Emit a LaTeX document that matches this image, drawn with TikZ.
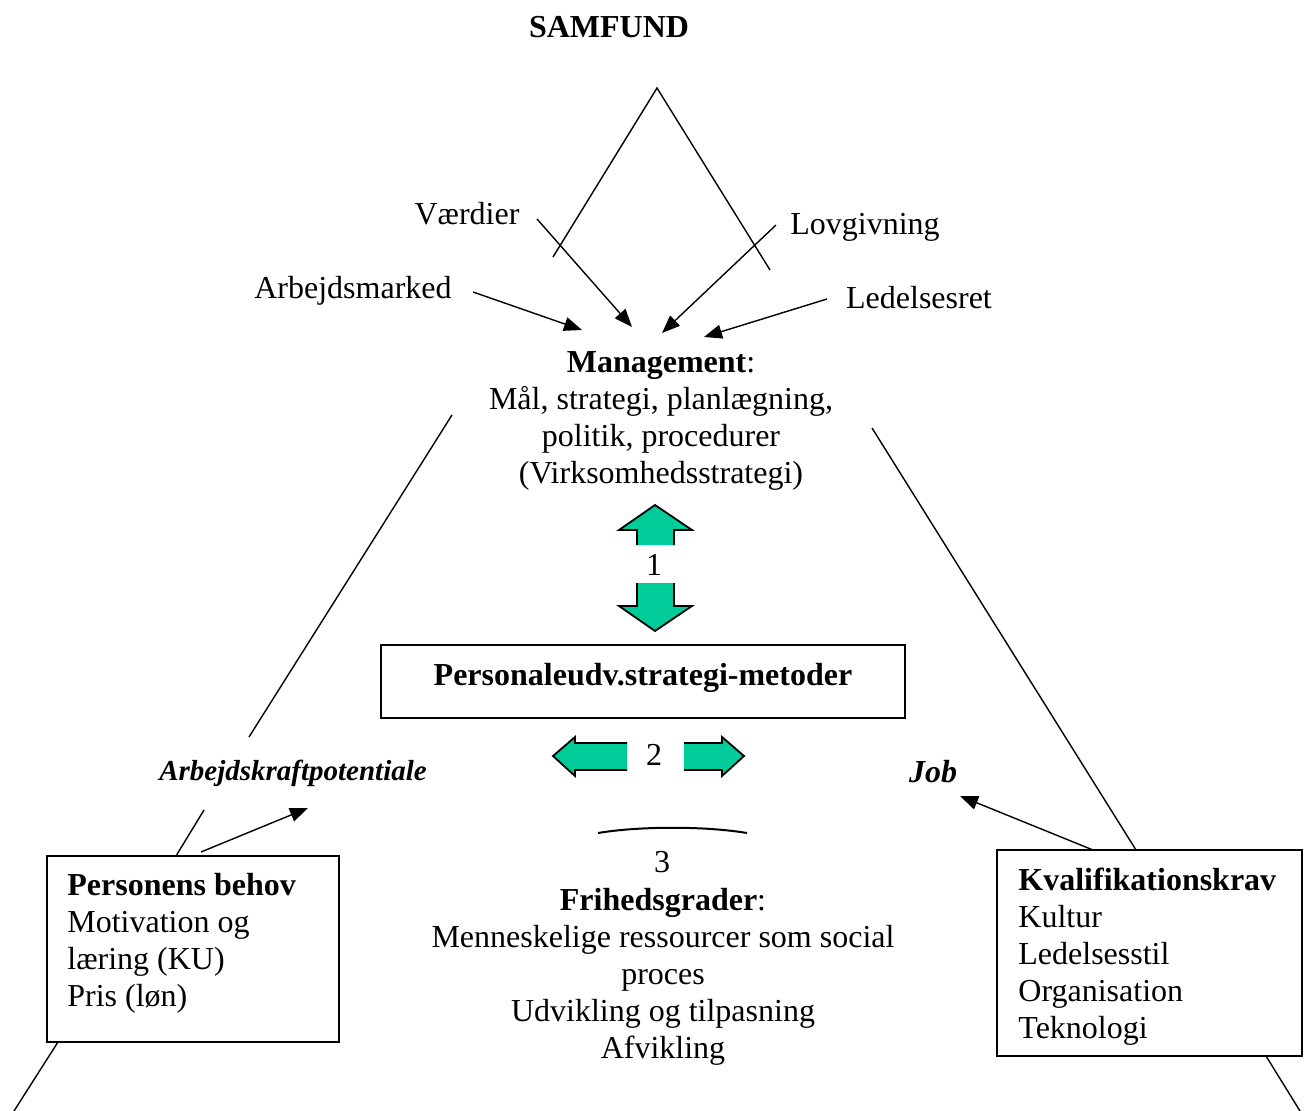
\documentclass[tikz,border=0pt]{standalone}
\usepackage{fontspec}
\setmainfont{Liberation Serif}
\usetikzlibrary{arrows.meta}
\definecolor{mint}{RGB}{0,204,153}

\begin{document}
\begin{tikzpicture}[x=0.5pt,y=-0.5pt,
  lbl/.style={inner sep=0pt, font=\fontsize{16}{18.5}\selectfont},
  edge/.style={line width=0.7pt, line cap=butt},
  feed/.style={line width=0.7pt, -{Triangle[length=9pt,width=7pt]}},
  framebox/.style={draw, line width=1pt, inner sep=0pt},
  bigarrow/.style={fill=mint, draw=black, line width=0.9pt, line join=miter}
]
\useasboundingbox (0,0) rectangle (1304,1111);

% --- society at the top ---
\node[lbl, font=\fontsize{16}{18.5}\selectfont\bfseries, anchor=base] (samfund) at (609,38) {SAMFUND};
\coordinate (apex) at (657,88);
\coordinate (roofL) at (553,257);
\coordinate (roofR) at (770,270);
\draw[edge] (roofL) -- (apex) -- (roofR);

% --- external influences ---
\node[lbl, anchor=base] (vaerdier) at (467,225) {Værdier};
\node[lbl, anchor=base] (lov) at (865,235) {Lovgivning};
\node[lbl, anchor=base] (arbm) at (353,299) {Arbejdsmarked};
\node[lbl, anchor=base] (ledret) at (919,309) {Ledelsesret};

\coordinate (vaerdierS) at (537,219); \coordinate (vaerdierE) at (632,327);
\coordinate (lovS) at (776,225);      \coordinate (lovE) at (662,333);
\coordinate (arbmS) at (473,292);     \coordinate (arbmE) at (582,330);
\coordinate (ledretS) at (827,299);   \coordinate (ledretE) at (704,337);
\draw[feed] (vaerdierS) -- (vaerdierE);
\draw[feed] (lovS) -- (lovE);
\draw[feed] (arbmS) -- (arbmE);
\draw[feed] (ledretS) -- (ledretE);

% --- management ---
\node[lbl, align=center, anchor=north] (mgmt) at (661,351)
  {\textbf{Management}:\\Mål, strategi, planlægning,\\politik, procedurer\\(Virksomhedsstrategi)};

% --- big triangle sides ---
\coordinate (leftA) at (452,415);  \coordinate (leftB) at (249,737);
\coordinate (leftC) at (204,810);  \coordinate (leftD) at (176,856);
\coordinate (leftE) at (58,1042);  \coordinate (leftF) at (14,1111);
\coordinate (rightA) at (872,428); \coordinate (rightB) at (1136,850);
\coordinate (rightC) at (1266,1056); \coordinate (rightD) at (1300,1111);
\draw[edge] (leftA) -- (leftB);
\draw[edge] (leftC) -- (leftD);
\draw[edge] (leftE) -- (leftF);
\draw[edge] (rightA) -- (rightB);
\draw[edge] (rightC) -- (rightD);

% --- relation 1 ---
\path[bigarrow] (637,545) -- (637,530) -- (619,530) -- (655,505) -- (692,530) -- (674,530) -- (674,545);
\node[lbl] (one) at (654,565) {1};
\path[bigarrow] (637,583) -- (637,606) -- (619,606) -- (655,631) -- (692,606) -- (674,606) -- (674,583);

% --- personnel development strategy ---
\node[framebox, lbl, font=\fontsize{16}{18.5}\selectfont\bfseries,
      text height=11pt, text depth=7.5pt,
      minimum width=262pt, minimum height=36.5pt] (pers) at (643,681.5)
  {Personaleudv.strategi-metoder};

% --- relation 2 ---
\path[bigarrow] (627,743) -- (575,743) -- (575,737) -- (553,756) -- (575,776) -- (575,770) -- (627,770);
\node[lbl] (two) at (654,755) {2};
\path[bigarrow] (684,743) -- (722,743) -- (722,737) -- (744,756) -- (722,776) -- (722,770) -- (684,770);

% --- relation 3 ---
\coordinate (arcL) at (598,833);
\coordinate (arcR) at (747,833);
\draw[line width=1pt] (arcL) .. controls (640,826) and (705,826) .. (arcR);
\node[lbl] (three) at (662,862) {3};

% --- degrees of freedom ---
\node[lbl, align=center, anchor=north] (frihed) at (663,888)
  {\textbf{Frihedsgrader}:\\Menneskelige ressourcer som social\\proces\\Udvikling og tilpasning\\Afvikling};

% --- labour potential and job ---
\node[lbl, font=\fontsize{14.5}{17}\selectfont\bfseries\itshape] (potentiale) at (293,773) {Arbejdskraftpotentiale};
\node[lbl, font=\fontsize{16}{18.5}\selectfont\bfseries\itshape] (job) at (933,772) {Job};
\coordinate (potS) at (201,852); \coordinate (potE) at (308,808);
\coordinate (jobS) at (1093,850); \coordinate (jobE) at (960,796);
\draw[feed] (potS) -- (potE);
\draw[feed] (jobS) -- (jobE);

% --- person's needs ---
\node[framebox, minimum width=146pt, minimum height=93pt] (behov) at (193,949) {};
\node[lbl, align=left, anchor=north west] (behovtxt) at (67,873)
  {\textbf{Personens behov}\\Motivation og\\læring (KU)\\Pris (løn)};

% --- qualification requirements ---
\node[framebox, minimum width=152.5pt, minimum height=103pt] (kval) at (1149.5,953) {};
\node[lbl, align=left, anchor=north west] (kvaltxt) at (1018,868)
  {\textbf{Kvalifikationskrav}\\Kultur\\Ledelsesstil\\Organisation\\Teknologi};

\end{tikzpicture}
\end{document}
